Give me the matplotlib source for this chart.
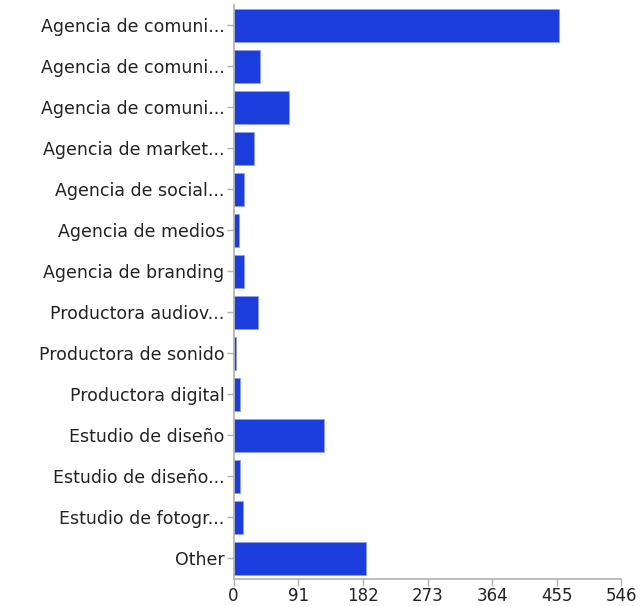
import matplotlib
matplotlib.use("Agg")
import matplotlib.pyplot as plt

categories = [
    "Agencia de comuni...",
    "Agencia de comuni...",
    "Agencia de comuni...",
    "Agencia de market...",
    "Agencia de social...",
    "Agencia de medios",
    "Agencia de branding",
    "Productora audiov...",
    "Productora de sonido",
    "Productora digital",
    "Estudio de diseño",
    "Estudio de diseño...",
    "Estudio de fotogr...",
    "Other",
]
values = [458, 37, 78, 29, 14, 8, 14, 35, 3, 9, 127, 9, 13, 186]
xticks = [0, 91, 182, 273, 364, 455, 546]

# reference text is wide (stretched helvetica), DejaVu comes closest
plt.rcParams['font.family'] = ['DejaVu Sans']

fig = plt.figure(figsize=(6.4, 6.06), dpi=100)
ax = fig.add_axes([0.365, 0.045, 0.606, 0.947])

pos = list(range(len(categories)))
ax.barh(pos, values, height=0.8, color="#1b3ddc", edgecolor="#8fa0ee", linewidth=0.6)

ax.set_ylim(len(categories) - 0.5, -0.5)
ax.set_xlim(0, 546)
ax.set_yticks(pos)
ax.set_yticklabels(categories, fontsize=12.5, color="#222222")
ax.set_xticks(xticks)
ax.set_xticklabels([str(t) for t in xticks], fontsize=12, color="#222222")

for s in ["top", "right"]:
    ax.spines[s].set_visible(False)
for s in ["left", "bottom"]:
    ax.spines[s].set_color("#b0b0b0")
    ax.spines[s].set_linewidth(1.2)
ax.tick_params(axis="both", colors="#b0b0b0", labelcolor="#222222", length=5, width=1)
ax.tick_params(axis="y", pad=1.5)
ax.tick_params(axis="x", pad=1)

fig.savefig("out.png", dpi=100)
